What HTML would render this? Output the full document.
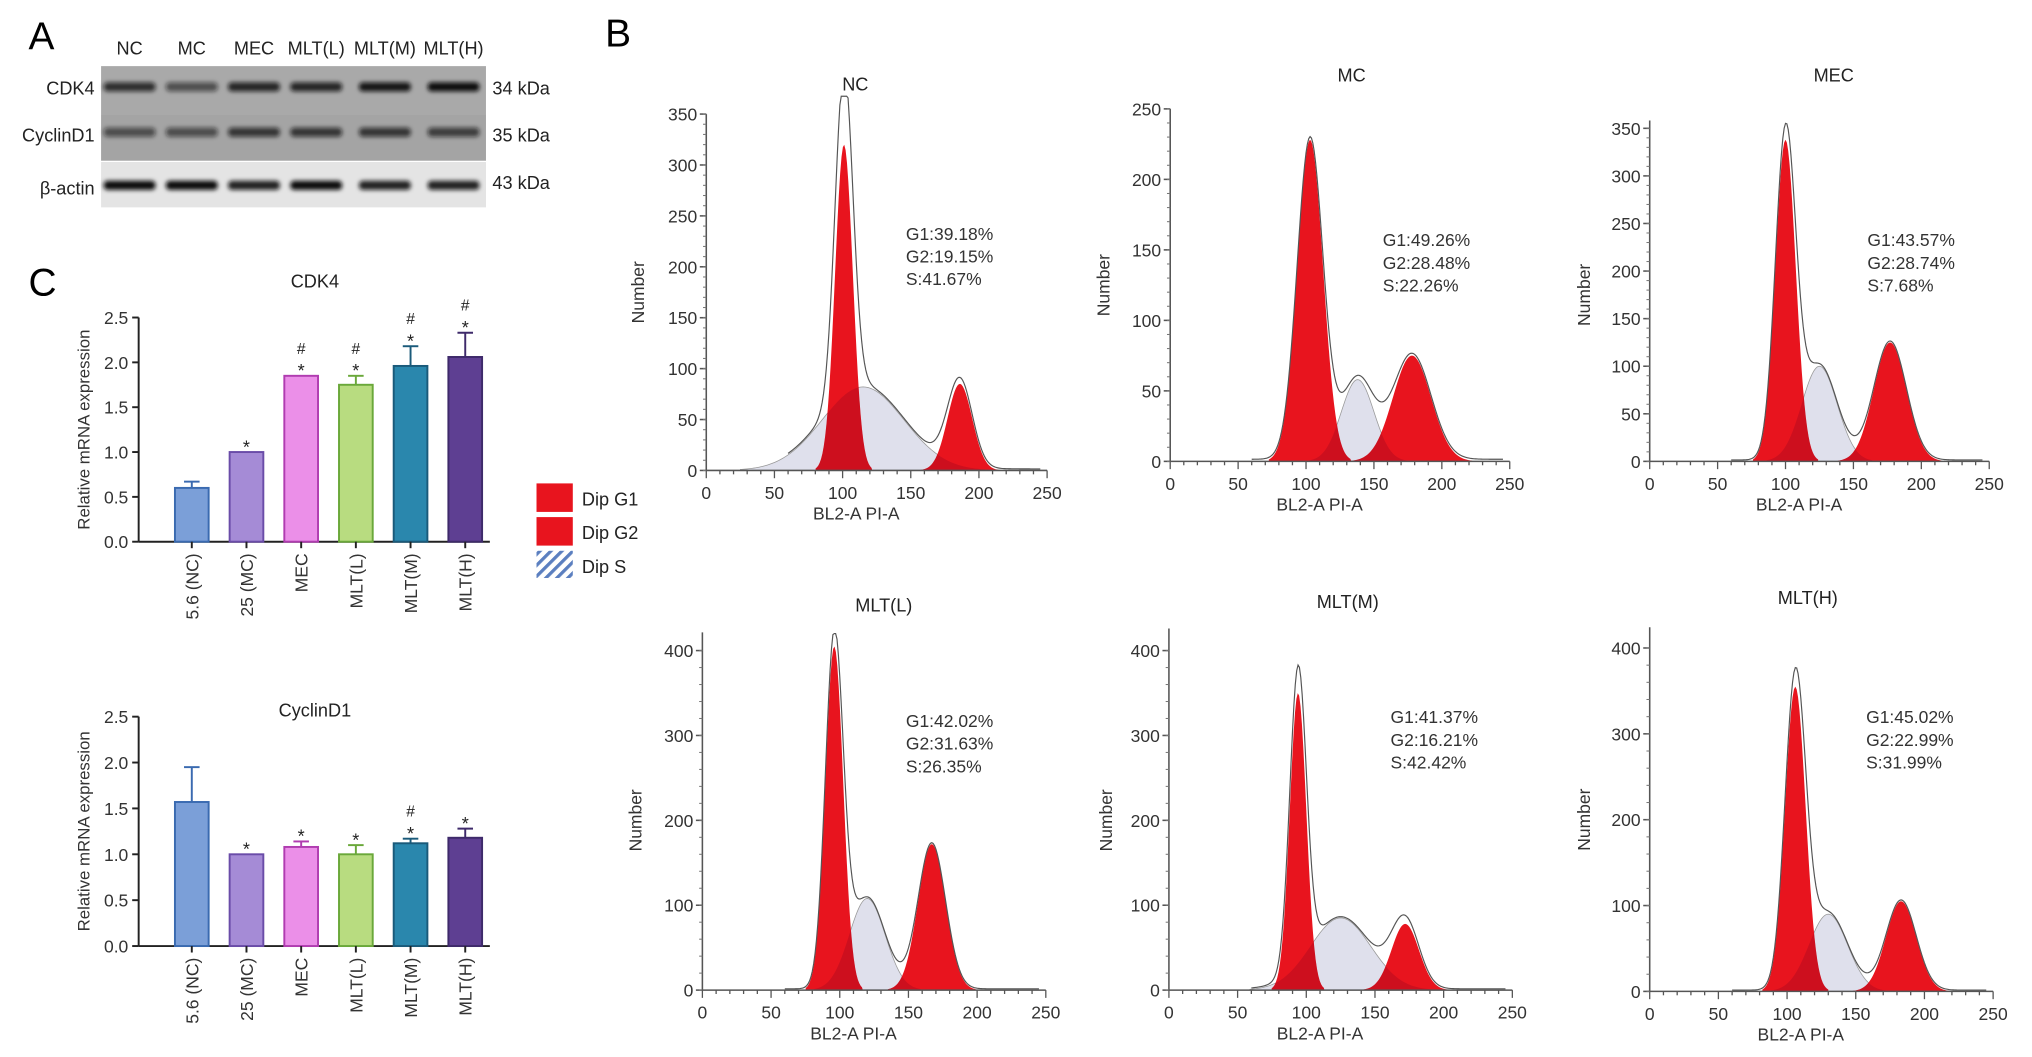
<!DOCTYPE html>
<html><head><meta charset="utf-8"><style>
html,body{margin:0;padding:0;background:#fff;}
svg{display:block;font-family:"Liberation Sans",Arial,sans-serif;}
</style></head><body>
<svg id="fig" width="2032" height="1057" viewBox="0 0 1568 815.6" xmlns="http://www.w3.org/2000/svg">
<defs id="defs">
<pattern id="hatch" width="6" height="6" patternUnits="userSpaceOnUse" patternTransform="rotate(45)">
<rect width="6" height="6" fill="#fff"/><rect width="2.5" height="6" fill="#5b7fc0"/></pattern>
<filter id="blur"><feGaussianBlur stdDeviation="1.6"/></filter>
</defs>
<g id="panelA">
<text x="22" y="38" font-size="30">A</text>
<g font-size="14" fill="#222" text-anchor="middle">
<text x="100" y="42">NC</text>
<text x="148" y="42">MC</text>
<text x="196" y="42">MEC</text>
<text x="244" y="42">MLT(L)</text>
<text x="297" y="42">MLT(M)</text>
<text x="350" y="42">MLT(H)</text>
</g>
<rect x="78" y="51" width="297" height="37" fill="#a9a9a9"/>
<rect x="78" y="88" width="297" height="36" fill="#a4a4a4"/>
<rect x="78" y="125" width="297" height="35" fill="#e4e4e4"/>
<g id="bands" filter="url(#blur)"></g>
<g font-size="14" fill="#222" text-anchor="end">
<text x="73" y="73">CDK4</text>
<text x="73" y="109">CyclinD1</text>
<text x="73" y="150">β-actin</text>
</g>
<g font-size="14" fill="#222">
<text x="380" y="73">34 kDa</text>
<text x="380" y="109">35 kDa</text>
<text x="380" y="146">43 kDa</text>
</g>
</g>
<text x="467" y="36" font-size="30">B</text>
<text x="22" y="228" font-size="30">C</text>
<g id="bars"></g>
<g id="flow"></g>
<g id="legend" font-size="14" fill="#222">
<rect x="414" y="373" width="28" height="22" fill="#e8141e"/>
<text x="449" y="390">Dip G1</text>
<rect x="414" y="399" width="28" height="22" fill="#e8141e"/>
<text x="449" y="416">Dip G2</text>
<rect x="414" y="425" width="28" height="21" fill="url(#hatch)"/>
<text x="449" y="442">Dip S</text>
</g>
</svg>
<script>
const NS='http://www.w3.org/2000/svg';
function mk(tag,attrs,parent,txt){const e=document.createElementNS(NS,tag);for(const k in attrs)e.setAttribute(k,attrs[k]);if(txt!==undefined)e.textContent=txt;parent.appendChild(e);return e;}

// ---- western blot band intensities ----
const bandLanes=[100,148,196,244,297,350];
const cdk4Band=[0.8,0.6,0.85,0.85,0.95,1.0];
const cycBand=[0.6,0.6,0.75,0.75,0.75,0.7];
const actinBand=[1,1,0.9,1,0.9,0.9];
const bandsG=document.getElementById('bands');
[[cdk4Band,67],[cycBand,102],[actinBand,143]].forEach(([arr,y],r)=>{
  arr.forEach((v,i)=>{
    const b=mk('rect',{x:bandLanes[i]-20,y:y-3.5,width:40,height:7,rx:3,fill:'#111','fill-opacity':v},bandsG);
    
    
  });
});

// ---- bar chart data ----
const barCats=['5.6 (NC)','25 (MC)','MEC','MLT(L)','MLT(M)','MLT(H)'];
const cdk4Vals=[0.6,1.0,1.85,1.75,1.96,2.06];
const cdk4Err=[0.07,0,0,0.1,0.22,0.27];
const cdk4Sig=['','*','#*','#*','#*','#*'];
const cycVals=[1.57,1.0,1.08,1.0,1.12,1.18];
const cycErr=[0.38,0,0.06,0.1,0.05,0.1];
const cycSig=['','*','*','*','#*','*'];
const yTicks=[0,0.5,1.0,1.5,2.0,2.5];
const barFill=['#7b9fd8','#a58bd6','#eb8fe8','#b8dc80','#2a87ad','#5e3f92'];
const barEdge=['#3a6ab0','#6a4ca8','#b03cb0','#6aa83a','#1a5a7a','#3e2a6a'];

function barChart(title,vals,errs,sigs,top,bottom,titleY,name){
  const g=mk('g',{},document.getElementById('bars'));
  
  
  const x0=107,xEnd=378;
  const ys=v=>bottom-(v/2.5)*(bottom-top);
  const xs=i=>148+i*42.2;
  const t=mk('text',{x:243,y:titleY,'font-size':14,'text-anchor':'middle',fill:'#222'},g,title);
  
  
  mk('line',{x1:x0,y1:top,x2:x0,y2:bottom,stroke:'#222','stroke-width':1.5},g);
  mk('line',{x1:x0,y1:bottom,x2:xEnd,y2:bottom,stroke:'#222','stroke-width':1.5},g);
  yTicks.forEach(v=>{
    mk('line',{x1:x0-5,y1:ys(v),x2:x0,y2:ys(v),stroke:'#222','stroke-width':1.5},g);
    const tl=mk('text',{x:x0-8,y:ys(v)+5,'font-size':13.5,'text-anchor':'end',fill:'#333'},g,v.toFixed(1));
    
    
  });
  const yl=mk('text',{x:0,y:0,'font-size':13,'text-anchor':'middle',fill:'#333',transform:`translate(69,${(top+bottom)/2}) rotate(-90)`},g,'Relative mRNA expression');
  
  
  vals.forEach((v,i)=>{
    const cx=xs(i),w=26;
    if(errs[i]>0){
      mk('line',{x1:cx,y1:ys(v),x2:cx,y2:ys(v+errs[i]),stroke:barEdge[i],'stroke-width':1.5},g);
      mk('line',{x1:cx-6,y1:ys(v+errs[i]),x2:cx+6,y2:ys(v+errs[i]),stroke:barEdge[i],'stroke-width':1.5},g);
    }
    const r=mk('rect',{x:cx-w/2,y:ys(v),width:w,height:bottom-ys(v),fill:barFill[i],stroke:barEdge[i],'stroke-width':1.5},g);
    
    
    mk('line',{x1:cx,y1:bottom,x2:cx,y2:bottom+5,stroke:'#222','stroke-width':1.5},g);
    const cl=mk('text',{x:0,y:0,'font-size':13.5,'text-anchor':'end',fill:'#333',transform:`translate(${cx+5},${bottom+9}) rotate(-90)`},g,barCats[i]);
    
    
    let sy=ys(v+errs[i])-5;
    const s=sigs[i];
    if(s.includes('*')){const a=mk('text',{x:cx,y:sy+6,'font-size':14,'text-anchor':'middle',fill:'#222'},g,'*');sy-=15;}
    if(s.includes('#')){const a=mk('text',{x:cx,y:sy+3,'font-size':12,'text-anchor':'middle',fill:'#222'},g,'#');}
  });
}
barChart('CDK4',cdk4Vals,cdk4Err,cdk4Sig,245,418,222,'cdk4-mrna-chart');
barChart('CyclinD1',cycVals,cycErr,cycSig,553,730,553,'cyclind1-mrna-chart');

// ---- flow cytometry data (gaussian fit params: [mean, height, sd]) ----
const flowTitles=['NC','MC','MEC','MLT(L)','MLT(M)','MLT(H)'];
const g1Fit=[[101,320,6.5],[103,228,9.5],[100,338,7.5],[96,405,6.5],[94,350,6],[106,355,7.5]];
const g2Fit=[[186,85,9],[178,75,14],[177,125,12],[167,172,10],[172,78,10],[183,105,11]];
const sFit=[[115,82,30],[138,58,12],[125,100,13],[120,108,13],[125,85,22],[130,90,14]];
const g1Text=['G1:39.18%','G1:49.26%','G1:43.57%','G1:42.02%','G1:41.37%','G1:45.02%'];
const g2Text=['G2:19.15%','G2:28.48%','G2:28.74%','G2:31.63%','G2:16.21%','G2:22.99%'];
const sText=['S:41.67%','S:22.26%','S:7.68%','S:26.35%','S:42.42%','S:31.99%'];
const yMaxes=[350,250,350,400,400,400];
const yStep=[50,50,50,100,100,100];
const xTicks=[0,50,100,150,200,250];
// layout
const L=[
 {x0:545,x1:808,yb:363,yt:88,ytop:88,tx:660,ty:70,sx:699,sy:185,nx:492},
 {x0:903,x1:1165,yb:356,yt:84,ytop:84,tx:1043,ty:63,sx:1067,sy:190,nx:851},
 {x0:1273,x1:1535,yb:356,yt:99,ytop:93,tx:1415,ty:63,sx:1441,sy:190,nx:1222},
 {x0:542,x1:807,yb:764,yt:502,ytop:488,tx:682,ty:472,sx:699,sy:561,nx:490},
 {x0:902,x1:1167,yb:764,yt:502,ytop:485,tx:1040,ty:469,sx:1073,sy:558,nx:853},
 {x0:1273,x1:1538,yb:765,yt:500,ytop:484,tx:1395,ty:466,sx:1440,sy:558,nx:1222}
];
const gauss=(x,p)=>p[1]*Math.exp(-0.5*((x-p[0])/p[2])**2);
const defs=document.getElementById('defs');
flowTitles.forEach((title,k)=>{
  const l=L[k];
  const g=mk('g',{},document.getElementById('flow'));
  
  
  const X=v=>l.x0+v/250*(l.x1-l.x0);
  const Y=v=>l.yb-v/yMaxes[k]*(l.yb-l.yt);
  const path=(p,lo,hi)=>{let d=`M${X(lo)},${Y(0)}`;for(let x=lo;x<=hi;x+=1)d+=`L${X(x)},${Y(gauss(x,p))}`;return d+`L${X(hi)},${Y(0)}Z`;};
  const tt=mk('text',{x:l.tx,y:l.ty,'font-size':14,'text-anchor':'middle',fill:'#222'},g,title);
  
  
  const sPath=path(sFit[k],sFit[k][0]-3*sFit[k][2],sFit[k][0]+3*sFit[k][2]);
  const sp=mk('path',{d:sPath,fill:'#dfe0ec',stroke:'#999','stroke-width':0.6},g);
  
  
  const cp=mk('clipPath',{id:'sclip'+k},defs);
  mk('path',{d:sPath},cp);
  [[g1Fit[k],'g1-peak'],[g2Fit[k],'g2-peak']].forEach(([p,n])=>{
    const pd=path(p,p[0]-3.2*p[2],p[0]+3.2*p[2]);
    const e=mk('path',{d:pd,fill:'#e8141e'},g);
    
    
    mk('path',{d:pd,fill:'#7a0020','fill-opacity':0.25,'clip-path':`url(#sclip${k})`},g);
  });
  // envelope
  let d='';
  for(let x=60;x<=245;x+=1){const v=gauss(x,g1Fit[k])+gauss(x,g2Fit[k])+gauss(x,sFit[k])+1.5;d+=(x===60?'M':'L')+X(x)+','+Y(Math.min(v,yMaxes[k]*1.05));}
  const env=mk('path',{d:d,fill:'none',stroke:'#555','stroke-width':0.9},g);
  
  
  // axes
  mk('line',{x1:l.x0,y1:l.ytop,x2:l.x0,y2:l.yb,stroke:'#555','stroke-width':1.2},g);
  mk('line',{x1:l.x0,y1:l.yb,x2:l.x1,y2:l.yb,stroke:'#555','stroke-width':1.2},g);
  for(let v=0;v<=yMaxes[k];v+=yStep[k]){
    mk('line',{x1:l.x0-5,y1:Y(v),x2:l.x0,y2:Y(v),stroke:'#555','stroke-width':1.2},g);
    const yt=mk('text',{x:l.x0-7,y:Y(v)+5,'font-size':13.5,'text-anchor':'end',fill:'#333'},g,String(v));
    
    
  }
  for(let v=0;v<=yMaxes[k]*1.02;v+=yStep[k]/5) mk('line',{x1:l.x0-2.5,y1:Y(v),x2:l.x0,y2:Y(v),stroke:'#777','stroke-width':0.8},g);
  for(let v=0;v<=250;v+=10) mk('line',{x1:X(v),y1:l.yb,x2:X(v),y2:l.yb+(v%50===0?6:3),stroke:'#555','stroke-width':1},g);
  xTicks.forEach(v=>{
    const xt=mk('text',{x:X(v),y:l.yb+22,'font-size':13.5,'text-anchor':'middle',fill:'#333'},g,String(v));
    
    
  });
  const xl=mk('text',{x:X(110),y:l.yb+38,'font-size':13.5,'text-anchor':'middle',fill:'#333'},g,'BL2-A PI-A');
  
  
  const yl=mk('text',{x:0,y:0,'font-size':13.5,'text-anchor':'middle',fill:'#333',transform:`translate(${l.nx+5},${(l.yb+l.yt)/2}) rotate(-90)`},g,'Number');
  
  
  [g1Text[k],g2Text[k],sText[k]].forEach((s,i)=>{
    const st=mk('text',{x:l.sx,y:l.sy+i*17.5,'font-size':13.5,fill:'#333'},g,s);
    
    
  });
});
</script>
</body></html>
